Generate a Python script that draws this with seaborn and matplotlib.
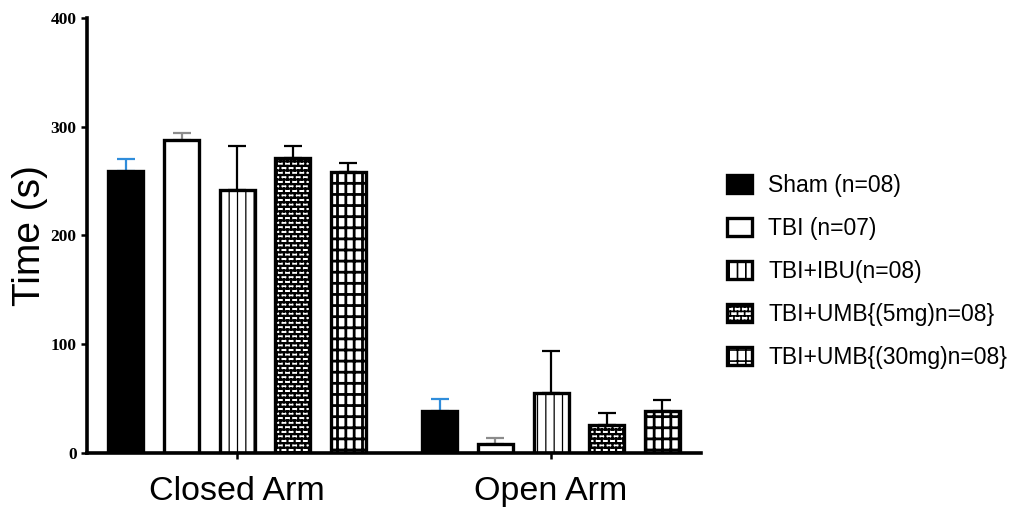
import numpy as np
import pandas as pd
import matplotlib
matplotlib.use("Agg")
import matplotlib.pyplot as plt
import matplotlib.hatch as mhatch
import matplotlib.patches as mpatches
from matplotlib.path import Path
import seaborn as sns

# ---- data -------------------------------------------------------------
arms = ["Closed Arm", "Open Arm"]
groups = ["Sham (n=08)", "TBI (n=07)", "TBI+IBU(n=08)",
          "TBI+UMB{(5mg)n=08}", "TBI+UMB{(30mg)n=08}"]
closed_mean = [259, 288, 242, 271, 258]
closed_sem = [11, 6, 40, 11, 9]
open_mean = [39, 8, 55, 26, 39]
open_sem = [11, 6, 39, 11, 10]
yticks = [0, 100, 200, 300, 400]


# ---- extra fill patterns: brick wall ('b') and coarse grid ('g') -------
class BrickHatch(mhatch.HatchPatternBase):
    rows, cols = 22, 14

    def __init__(self, hatch, density):
        self.on = hatch.count("b") > 0
        self.num_vertices = ((self.rows + (self.rows + 1) * self.cols) * 2
                             if self.on else 0)

    def set_vertices_and_codes(self, vertices, codes):
        h = 1.0 / self.rows
        segs = []
        for r in range(self.rows):
            y = (r + 0.5) * h
            segs.append(((0.0, y), (1.0, y)))
        for r in range(self.rows):
            off = (0.25 if r % 2 == 0 else 0.75) / self.cols
            for c in range(self.cols):
                x = c / self.cols + off
                y0 = (r + 0.5) * h
                y1 = (r + 1.5) * h
                if r < self.rows - 1:
                    segs.append(((x, y0), (x, y1)))
                else:
                    segs.append(((x, y0), (x, 1.0)))
                    segs.append(((x, 0.0), (x, 0.5 * h)))
        for i, (a, b) in enumerate(segs):
            vertices[2 * i] = a
            vertices[2 * i + 1] = b
            codes[2 * i] = Path.MOVETO
            codes[2 * i + 1] = Path.LINETO


class GridHatch(mhatch.HatchPatternBase):
    rows, cols = 9, 12

    def __init__(self, hatch, density):
        self.on = hatch.count("g") > 0
        self.num_vertices = (self.rows + self.cols) * 2 if self.on else 0

    def set_vertices_and_codes(self, vertices, codes):
        segs = []
        for r in range(self.rows):
            y = (r + 0.5) / self.rows
            segs.append(((0.0, y), (1.0, y)))
        for c in range(self.cols):
            x = (c + 0.5) / self.cols
            segs.append(((x, 0.0), (x, 1.0)))
        for i, (a, b) in enumerate(segs):
            vertices[2 * i] = a
            vertices[2 * i + 1] = b
            codes[2 * i] = Path.MOVETO
            codes[2 * i + 1] = Path.LINETO


mhatch._hatch_types.extend([BrickHatch, GridHatch])
mhatch._validate_hatch_pattern = lambda hatch: None

# ---- style --------------------------------------------------------------
sns.set_style("ticks")
plt.rcParams["font.family"] = ["Liberation Sans", "DejaVu Sans"]
plt.rcParams["hatch.linewidth"] = 1.2
plt.rcParams["text.color"] = "black"
plt.rcParams["axes.labelcolor"] = "black"
plt.rcParams["xtick.color"] = "black"
plt.rcParams["ytick.color"] = "black"

faces = ["black", "white", "white", "white", "white"]
hatches = [None, None, "||", "b", "g"]
hatch_lw = [1.0, 1.0, 0.9, 1.6, 2.0]
err_colors = ["#2f8ddb", "#8c8c8c", "black", "black", "black"]

df = pd.DataFrame({
    "arm": np.repeat(arms, len(groups)),
    "group": groups * len(arms),
    "time": closed_mean + open_mean,
})
sems = {"Closed Arm": closed_sem, "Open Arm": open_sem}

fig = plt.figure(figsize=(10.19, 5.14), dpi=100)
ax = fig.add_axes([0.0854, 0.1187, 0.6026, 0.8463])

sns.barplot(data=df, x="arm", y="time", hue="group", order=arms,
            hue_order=groups, palette=dict(zip(groups, faces)),
            saturation=1, width=0.885, gap=0.37, errorbar=None,
            edgecolor="black", linewidth=2.4, legend=False, ax=ax)

bar_sets = list(ax.containers)
for gi, cont in enumerate(bar_sets):
    xs, tops = [], []
    for p in cont.patches:
        p.set_hatch(hatches[gi])
        if hasattr(p, "set_hatch_linewidth"):
            p.set_hatch_linewidth(hatch_lw[gi])
        xs.append(p.get_x() + p.get_width() / 2)
        tops.append(p.get_height())
    errs = [sems[a][gi] for a in arms]
    ax.errorbar(xs, tops, yerr=[np.zeros(len(errs)), errs], fmt="none",
                ecolor=err_colors[gi], elinewidth=1.6, capsize=6.5,
                capthick=1.6, zorder=0.5)

ax.set_ylim(0, 400)
ax.set_yticks(yticks)
ax.set_xlim(-0.478, 1.478)
ax.set_xlabel("")
ax.set_ylabel("Time (s)", fontsize=28, labelpad=2, color="black")
for lab in ax.get_yticklabels():
    lab.set_fontfamily("Liberation Serif")
    lab.set_fontweight("bold")
    lab.set_fontsize(12.5)
    lab.set_color("black")
for lab in ax.get_xticklabels():
    lab.set_fontsize(24.5)
    lab.set_color("black")
ax.tick_params(axis="both", direction="out", length=4.5, width=1.8,
               color="black")
ax.tick_params(axis="y", pad=3)
ax.tick_params(axis="x", pad=12)
sns.despine(ax=ax)
for s in ("left", "bottom"):
    ax.spines[s].set_linewidth(2.6)
    ax.spines[s].set_color("black")

handles = []
for gi, g in enumerate(groups):
    h = mpatches.Patch(facecolor=faces[gi], edgecolor="black",
                       linewidth=2.4, hatch=hatches[gi], label=g)
    handles.append(h)
leg = fig.legend(handles=handles, loc="center left",
                 bbox_to_anchor=(727 / 1019, 1 - 271.5 / 514),
                 frameon=False, fontsize=16.5, handlelength=1.1,
                 handleheight=0.8, handletextpad=0.7, labelspacing=0.87,
                 borderpad=0, borderaxespad=0)
for t in leg.get_texts():
    t.set_color("black")

fig.savefig("out.png", dpi=100)
